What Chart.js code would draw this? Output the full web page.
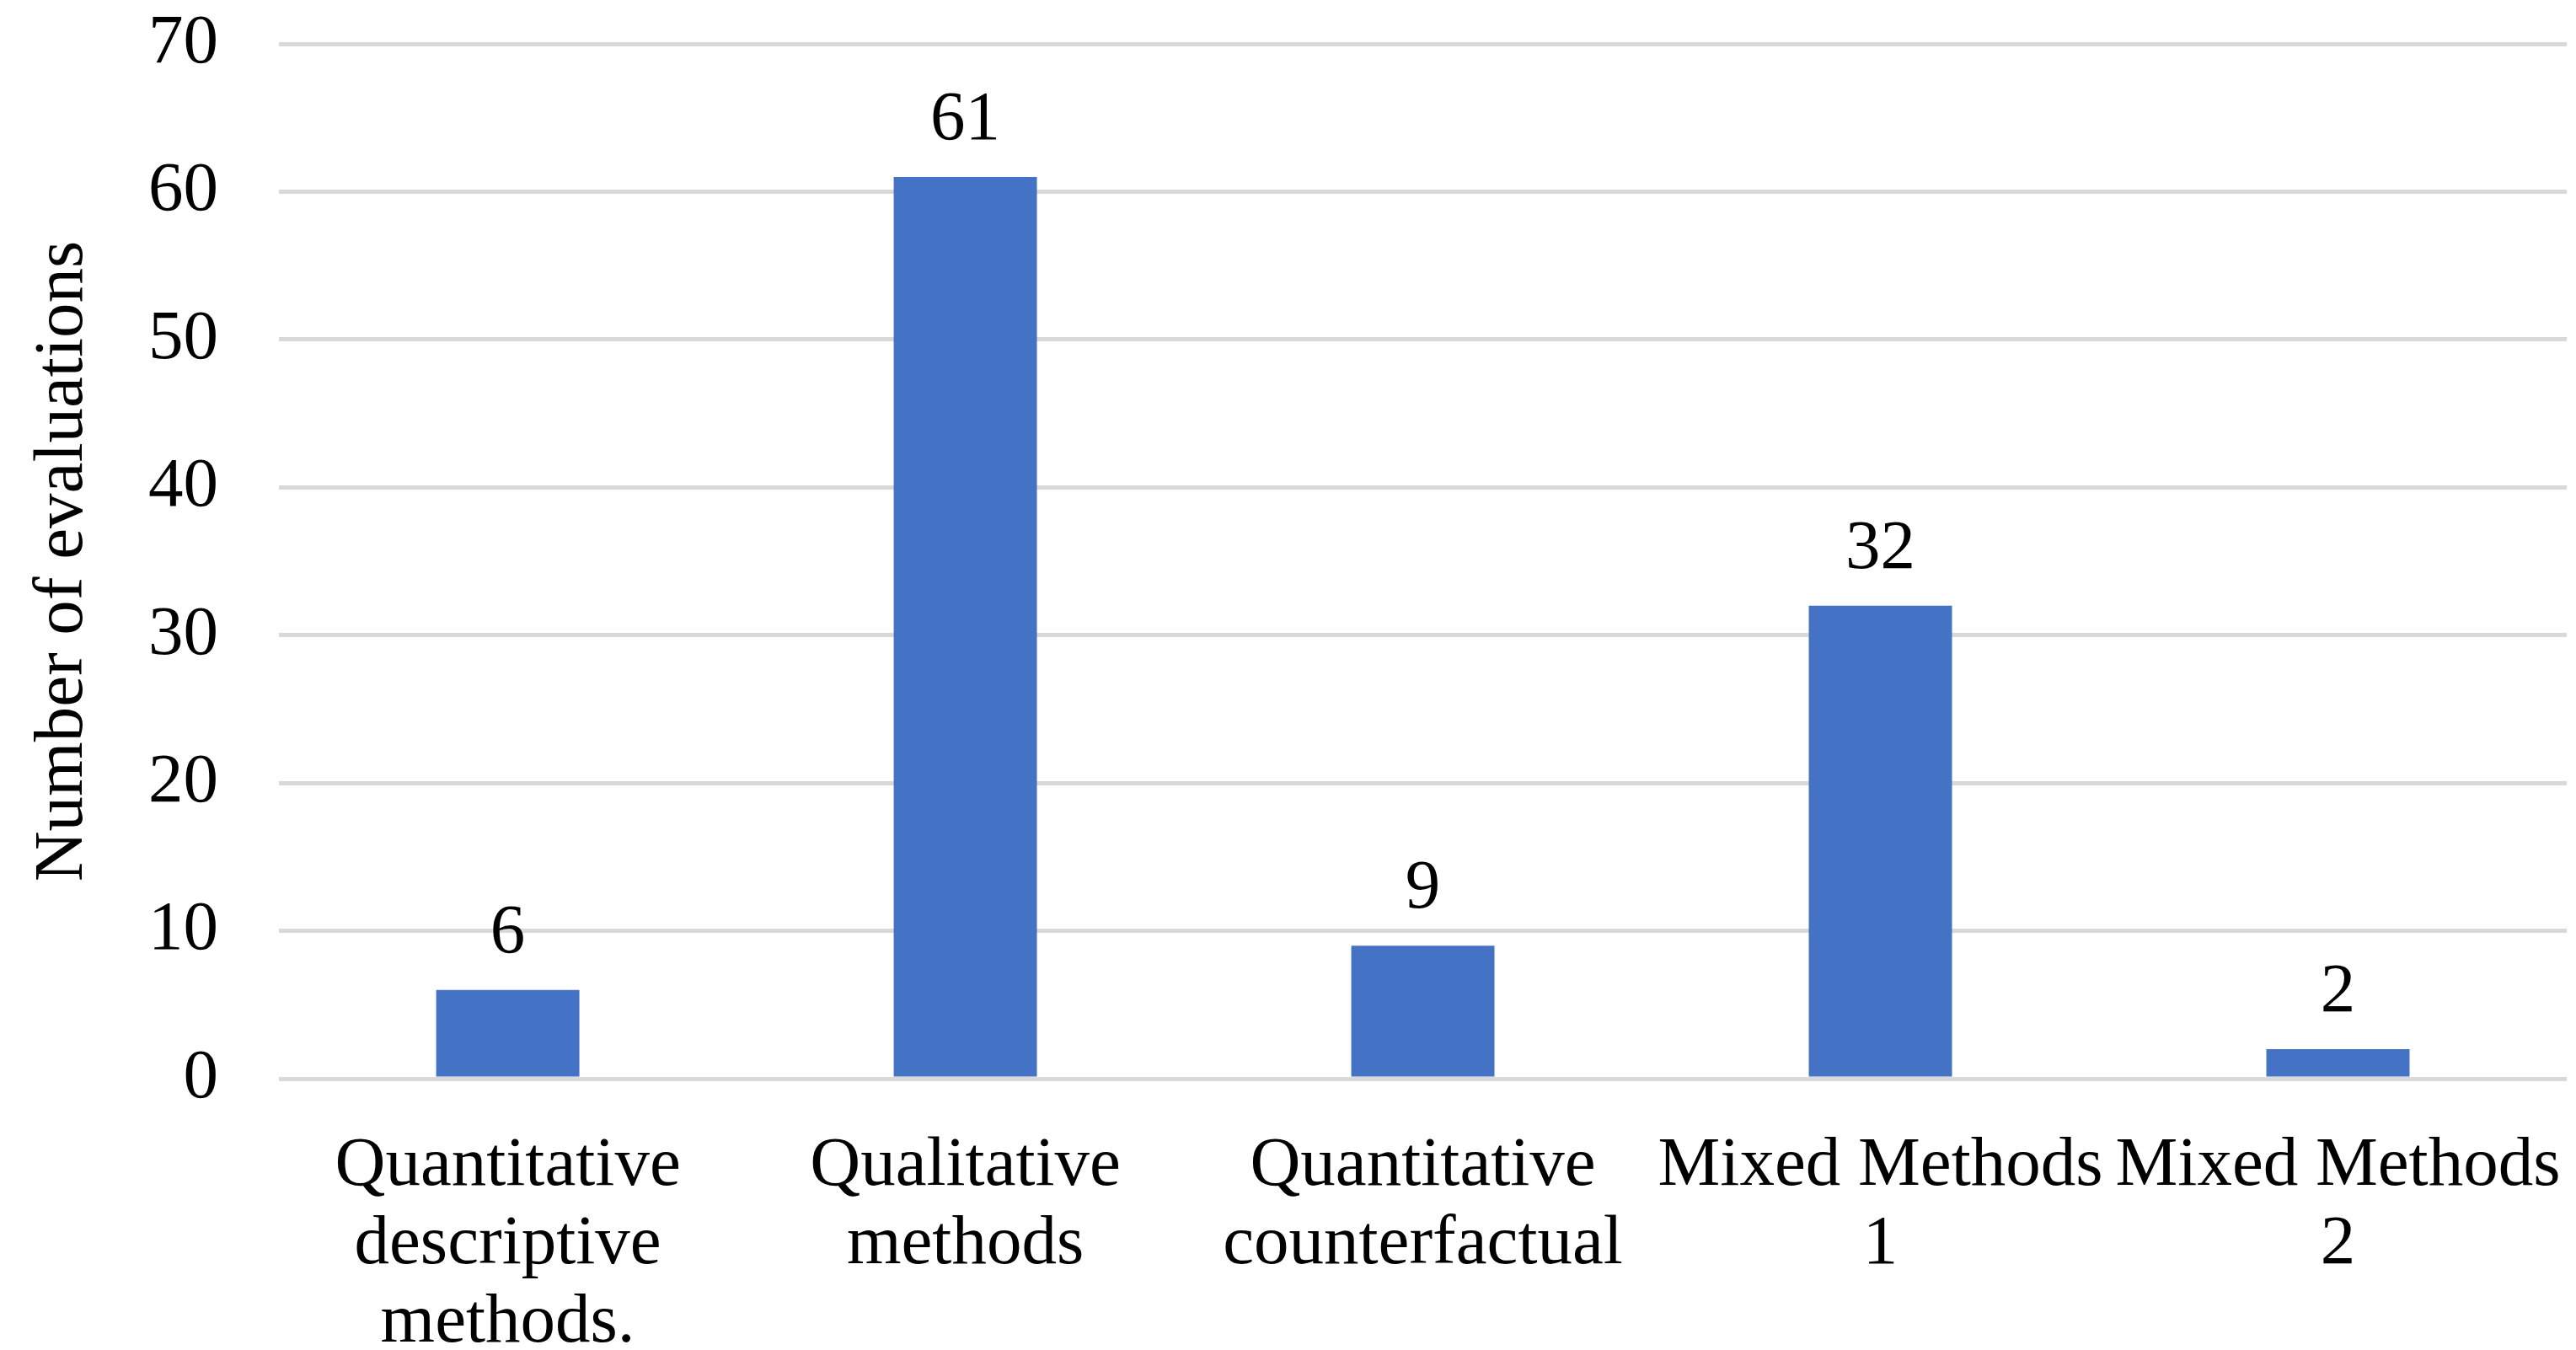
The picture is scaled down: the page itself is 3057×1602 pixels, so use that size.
<!DOCTYPE html>
<html>
<head>
<meta charset="utf-8">
<script src="https://cdn.jsdelivr.net/npm/chart.js@4"></script>
<style>
    html, body { margin: 0; padding: 0; background: #ffffff; }
    #wrap { width: 3057px; height: 1602px; position: relative; }
</style>
</head>
<body>
<div id="wrap"><canvas id="chart"></canvas></div>
<script>
// chart data
const categories = [
    ['Quantitative', 'descriptive', 'methods.'],
    ['Qualitative', 'methods'],
    ['Quantitative', 'counterfactual'],
    ['Mixed Methods', '1'],
    ['Mixed Methods', '2']
]
const evaluations = [6, 61, 9, 32, 2]
const yTicks = [0, 10, 20, 30, 40, 50, 60, 70]
const yTitle = 'Number of evaluations'

const fontFamily = '"Liberation Serif", "Times New Roman", serif'
const fontSize = 83

// Draws the value above each bar
const valueLabels = {
    id: 'valueLabels',
    afterDatasetsDraw(chart) {
        const ctx = chart.ctx
        const meta = chart.getDatasetMeta(0)
        ctx.save()
        ctx.font = `${fontSize}px ${fontFamily}`
        ctx.fillStyle = '#000000'
        ctx.textAlign = 'center'
        ctx.textBaseline = 'alphabetic'
        meta.data.forEach((bar, i) => {
            ctx.fillText(String(evaluations[i]), bar.x, bar.y - 45)
        })
        ctx.restore()
    }
}

const ctx = document.querySelector('#chart').getContext('2d')

// tick padding is done with invisible tick marks so it doesn't add to the edge padding
new Chart(ctx, {
    type: 'bar',
    data: {
        labels: categories,
        datasets: [{
            label: yTitle,
            data: evaluations,
            backgroundColor: '#4472C4',
            borderWidth: 0,
            categoryPercentage: 1,
            barPercentage: 0.313
        }]
    },
    options: {
        responsive: true,
        maintainAspectRatio: false,
        animation: false,
        layout: {
            padding: { top: 52, right: 11, bottom: -15, left: 46 }
        },
        plugins: {
            legend: { display: false },
            tooltip: { enabled: false }
        },
        scales: {
            x: {
                grid: {
                    color: 'transparent',
                    drawTicks: true,
                    tickLength: 58,
                    tickColor: 'transparent'
                },
                border: { display: false },
                ticks: {
                    color: '#000000',
                    padding: 0,
                    maxRotation: 0,
                    autoSkip: false,
                    font: { family: fontFamily, size: fontSize, lineHeight: 1.12 }
                }
            },
            y: {
                min: 0,
                max: 70,
                afterBuildTicks: (axis) => {
                    axis.ticks = yTicks.map(v => ({ value: v }))
                },
                grid: {
                    color: '#d9d9d9',
                    lineWidth: 5,
                    drawTicks: true,
                    tickLength: 72,
                    tickColor: 'transparent'
                },
                border: { display: false },
                ticks: {
                    color: '#000000',
                    padding: 0,
                    font: { family: fontFamily, size: fontSize }
                },
                title: {
                    display: true,
                    text: yTitle,
                    color: '#000000',
                    padding: { top: 0, bottom: 72 },
                    font: { family: fontFamily, size: fontSize, lineHeight: 0.7 }
                }
            }
        }
    },
    plugins: [valueLabels]
})
</script>
</body>
</html>
